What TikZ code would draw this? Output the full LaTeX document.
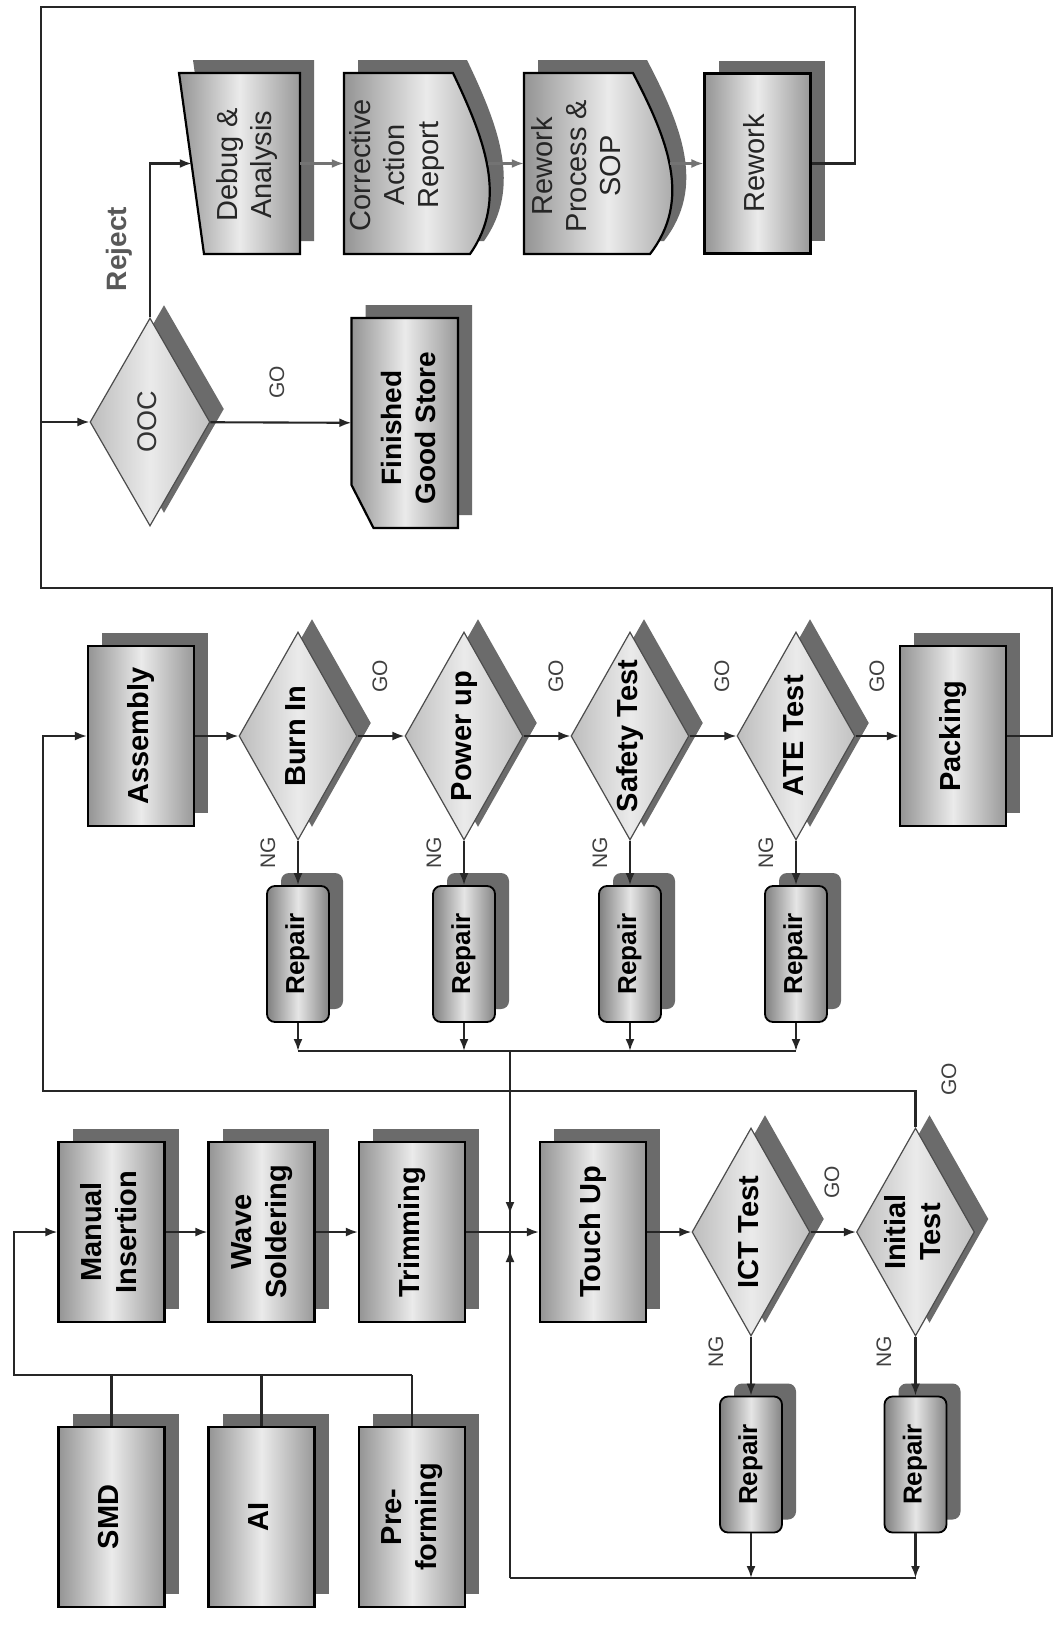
\documentclass[tikz,border=0pt]{standalone}
\usepackage{fontspec}
\setmainfont{Liberation Sans}
\usetikzlibrary{shapes.geometric,arrows.meta,shadows}
\newcommand\rtxt[1]{\rotatebox{90}{\begin{tabular}{@{}c@{}}#1\end{tabular}}}
\newcommand\rzero[1]{\rotatebox{90}{\makebox[0pt]{\begin{tabular}{@{}c@{}}#1\end{tabular}}}}
\begin{document}
\begin{tikzpicture}[x=1pt,y=-1pt,
  shadowc/.style={fill=black!58},
  myshadow/.style={drop shadow={shadow xshift=14pt,shadow yshift=13pt,fill=black!58,opacity=1}},
  procbox/.style={rectangle,draw=black,line width=2.2pt,minimum width=106pt,minimum height=180pt,inner sep=0pt,
     left color=black!42,right color=black!40,middle color=black!8,myshadow,
     font=\fontsize{29}{35}\selectfont\bfseries},
  decis/.style={diamond,draw=black!70,line width=1.2pt,aspect=1,minimum width=118pt,minimum height=208pt,inner sep=0pt,
     left color=black!26,right color=black!24,middle color=black!8,myshadow,
     font=\fontsize{29}{35}\selectfont\bfseries},
  dtext/.style={font=\fontsize{28}{34}\selectfont\bfseries,inner sep=0pt},
  repbox/.style={rectangle,rounded corners=8pt,draw=black,line width=1.8pt,minimum width=62pt,minimum height=136pt,inner sep=0pt,
     left color=black!50,right color=black!48,middle color=black!10,myshadow,
     font=\fontsize{26}{30}\selectfont\bfseries},
  ghost/.style={rectangle,inner sep=0pt},
  toptext/.style={font=\fontsize{29}{34}\selectfont,text=black!85,inner sep=0pt},
  lab/.style={font=\fontsize{21}{24}\selectfont,text=black!75,inner sep=0pt,rotate=90},
  con/.style={draw=black!85,line width=2.1pt},
  arr/.style={con,-{Latex[length=12pt,width=9pt]}},
  garr/.style={draw=black!55,line width=2.1pt,-{Latex[length=12pt,width=9pt]}},
  shapeline/.style={draw=black,line width=2.2pt,left color=black!42,right color=black!40,middle color=black!8},
]
\useasboundingbox (0,0) rectangle (1062,1625);
\fill[white] (0,0) rectangle (1062,1625);

% ---------- top section: custom shapes ----------
\begin{scope}[shift={(14,-13)}]
  \fill[shadowc] (179,73) -- (300,73) -- (300,254) -- (204,254) -- cycle;
  \fill[shadowc] (344,73) -- (453,73) .. controls (485,140) and (508,200) .. (470,254) -- (344,254) -- cycle;
  \fill[shadowc] (524,73) -- (633,73) .. controls (668,140) and (692,200) .. (650,254) -- (524,254) -- cycle;
  \fill[shadowc] (351.5,318) -- (458,318) -- (458,528) -- (373.5,528) -- (351.5,485) -- cycle;
\end{scope}
\path[shapeline] (179,73) -- (300,73) -- (300,254) -- (204,254) -- cycle;
\path[shapeline] (344,73) -- (453,73) .. controls (485,140) and (508,200) .. (470,254) -- (344,254) -- cycle;
\path[shapeline] (524,73) -- (633,73) .. controls (668,140) and (692,200) .. (650,254) -- (524,254) -- cycle;
\path[shapeline] (351.5,318) -- (458,318) -- (458,528) -- (373.5,528) -- (351.5,485) -- cycle;

\node[ghost,minimum width=108pt,minimum height=181pt] (dbg) at (246,163.5) {};
\node[toptext] (dbgT) at (248,165) {\rtxt{Debug \&\\Analysis}};
\node[ghost,minimum width=144pt,minimum height=181pt] (car) at (416,163.5) {};
\node[toptext] (carT) at (398,165) {\rtxt{Corrective\\Action\\Report}};
\node[ghost,minimum width=146pt,minimum height=181pt] (rps) at (597,163.5) {};
\node[toptext] (rpsT) at (580,166) {\rtxt{Rework\\Process \&\\SOP}};
\node[procbox,font=\fontsize{29}{34}\selectfont,text=black!85] (rew) at (757.5,163.5) {\rtxt{Rework}};
\node[ghost,minimum width=106.5pt,minimum height=210pt] (fgs) at (404.75,423) {};
\node[dtext] (fgsT) at (412,428) {\rtxt{Finished\\Good Store}};
\node[decis,minimum width=120pt,font=\fontsize{27}{32}\selectfont,text=black!80] (ooc) at (150,422) {\rzero{OOC}};

% ---------- middle section ----------
\node[procbox] (asm) at (141,736) {\rtxt{Assembly}};
\node[decis] (burn) at (298,736) {\rzero{Burn In}};
\node[decis] (pwr) at (464,736) {\rzero{Power up}};
\node[decis] (saf) at (630,736) {\rzero{Safety Test}};
\node[decis] (ate) at (796,736) {\rzero{ATE Test}};
\node[procbox] (pack) at (953,736) {\rtxt{Packing}};
\node[repbox] (rep1) at (298,954) {\rtxt{Repair}};
\node[repbox] (rep2) at (464,954) {\rtxt{Repair}};
\node[repbox] (rep3) at (630,954) {\rtxt{Repair}};
\node[repbox] (rep4) at (796,954) {\rtxt{Repair}};

% ---------- lower section ----------
\node[procbox] (mi) at (111.5,1232) {\rtxt{Manual\\Insertion}};
\node[procbox] (ws) at (261.5,1232) {\rtxt{Wave\\Soldering}};
\node[procbox] (tr) at (412,1232) {\rtxt{Trimming}};
\node[procbox] (tu) at (593,1232) {\rtxt{Touch Up}};
\node[decis] (ict) at (751,1232) {\rzero{ICT Test}};
\node[decis] (init) at (915.5,1232) {\rzero{Initial\\Test}};
\node[repbox] (rep5) at (751,1464.5) {\rtxt{Repair}};
\node[repbox] (rep6) at (915.5,1464.5) {\rtxt{Repair}};
\node[procbox] (smd) at (111.5,1517) {\rtxt{SMD}};
\node[procbox] (ai) at (261.5,1517) {\rtxt{AI}};
\node[procbox] (pre) at (412,1517) {\rtxt{Pre-\\forming}};

% ---------- coordinates ----------
\coordinate (busL) at (14,1375);
\coordinate (busR) at (412,1375);
\coordinate (J) at (510,1232);
\coordinate (RL) at (510,1051);
\coordinate (BL) at (510,1578);
\coordinate (G1) at (43,1091);
\coordinate (P1) at (1052,588);
\coordinate (P2) at (41,588);
\coordinate (T1) at (855,7);
\coordinate (T2) at (41,7);
\coordinate (r1) at (rep1 |- RL);
\coordinate (r2) at (rep2 |- RL);
\coordinate (r3) at (rep3 |- RL);
\coordinate (r4) at (rep4 |- RL);
\coordinate (b5) at (rep5 |- BL);
\coordinate (b6) at (rep6 |- BL);

% ---------- connectors: lower ----------
\draw[con] (smd) -- (smd |- busL);
\draw[con] (ai) -- (ai |- busL);
\draw[con] (pre) -- (busR);
\draw[arr] (busR) -- (busL) |- (mi);
\draw[arr] (mi) -- (ws);
\draw[arr] (ws) -- (tr);
\draw[con] (tr) -- (J);
\draw[arr] (J) -- (tu);
\draw[con] (RL) -- (BL);
\draw[arr,shorten >=18pt] (RL) -- (J);
\draw[arr,shorten >=18pt] (BL) -- (J);
\draw[arr] (tu) -- (ict);
\draw[arr] (ict) -- (init);
\draw[arr] (ict) -- (rep5);
\draw[arr] (init) -- (rep6);
\draw[con] (BL) -- (b6);
\draw[arr] (rep5) -- (b5);
\draw[arr] (rep6) -- (b6);
\draw[arr] (init) -- (init |- G1) -- (G1) |- (asm);

% ---------- connectors: middle ----------
\draw[arr] (asm) -- (burn);
\draw[arr] (burn) -- (pwr);
\draw[arr] (pwr) -- (saf);
\draw[arr] (saf) -- (ate);
\draw[arr] (ate) -- (pack);
\draw[arr] (burn) -- (rep1);
\draw[arr] (pwr) -- (rep2);
\draw[arr] (saf) -- (rep3);
\draw[arr] (ate) -- (rep4);
\draw[con] (r1) -- (r4);
\draw[arr] (rep1) -- (r1);
\draw[arr] (rep2) -- (r2);
\draw[arr] (rep3) -- (r3);
\draw[arr] (rep4) -- (r4);

% ---------- connectors: top ----------
\draw[arr] (pack) -| (P1) -- (P2) |- (ooc);
\draw[con] (rew) -| (T1) -- (T2) -- (T2 |- ooc);
\draw[arr] (ooc) -- (fgs);
\draw[arr] (ooc) |- (dbg);
\draw[garr] (dbg) -- (car);
\draw[garr] (car) -- (rps);
\draw[garr] (rps) -- (rew);

% ---------- labels ----------
\node[lab] (go1) at (380,676) {GO};
\node[lab] (go2) at (556,676) {GO};
\node[lab] (go3) at (722,676) {GO};
\node[lab] (go4) at (877,676) {GO};
\node[lab] (ng1) at (268,853) {NG};
\node[lab] (ng2) at (434,853) {NG};
\node[lab] (ng3) at (600,853) {NG};
\node[lab] (ng4) at (766,853) {NG};
\node[lab] (go5) at (832,1182) {GO};
\node[lab] (go6) at (949,1079) {GO};
\node[lab] (ng5) at (716,1352) {NG};
\node[lab] (ng6) at (884,1352) {NG};
\node[lab] (go7) at (277,382) {GO};
\node[lab,font=\fontsize{28}{32}\selectfont\bfseries,text=black!65] (rej) at (119,249) {Reject};
\end{tikzpicture}
\end{document}
